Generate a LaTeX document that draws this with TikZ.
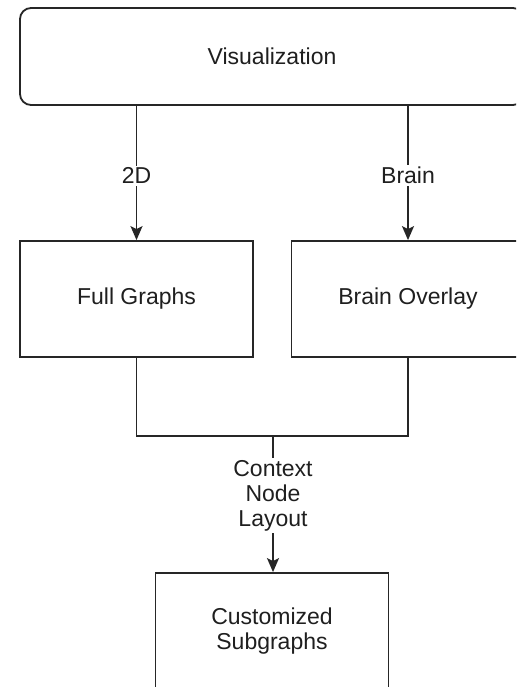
\documentclass[tikz,border=0pt]{standalone}
\usepackage{fontspec}
\setmainfont{Liberation Sans}
\usetikzlibrary{arrows.meta}
\begin{document}
\begin{tikzpicture}[x=1pt,y=-1pt,
  every node/.style={font=\fontsize{23}{25}\selectfont, text=black!88},
  block/.style={draw=black!85, line width=1.8pt, fill=white, align=center,
    minimum width=233pt, minimum height=116pt, inner sep=0pt},
  topbox/.style={block, rounded corners=11pt, minimum width=504pt, minimum height=97pt},
  link/.style={draw=black!85, line width=1.8pt},
  flow/.style={link, -{Stealth[width=12pt,length=14pt,inset=3pt]}},
  tag/.style={fill=white, inner sep=2pt, align=center}]
\useasboundingbox (0,0) rectangle (516,687);
\clip (0,0) rectangle (516,687);
\fill[white] (0,0) rectangle (516,687);

% boxes
\node[topbox] (vis) at (272,56.5) {Visualization};
\node[block] (full) at (136.5,299) {Full Graphs};
\node[block] (brain) at (408,299) {Brain Overlay};
\node[block] (sub) at (272,631) {Customized\\Subgraphs};

% split of the two views
\draw[flow] (vis.south -| full.north) -- node[tag, pos=0.52] {2D} (full.north);
\draw[flow] (vis.south -| brain.north) -- node[tag, pos=0.52] {Brain} (brain.north);

% both views merge into the subgraph box
\coordinate (join) at (273,436);
\draw[link] (full.south) |- (join) -| (brain.south);
\draw[flow] (join) -- node[tag, pos=0.44] {Context\\Node\\Layout} (join |- sub.north);
\end{tikzpicture}
\end{document}
